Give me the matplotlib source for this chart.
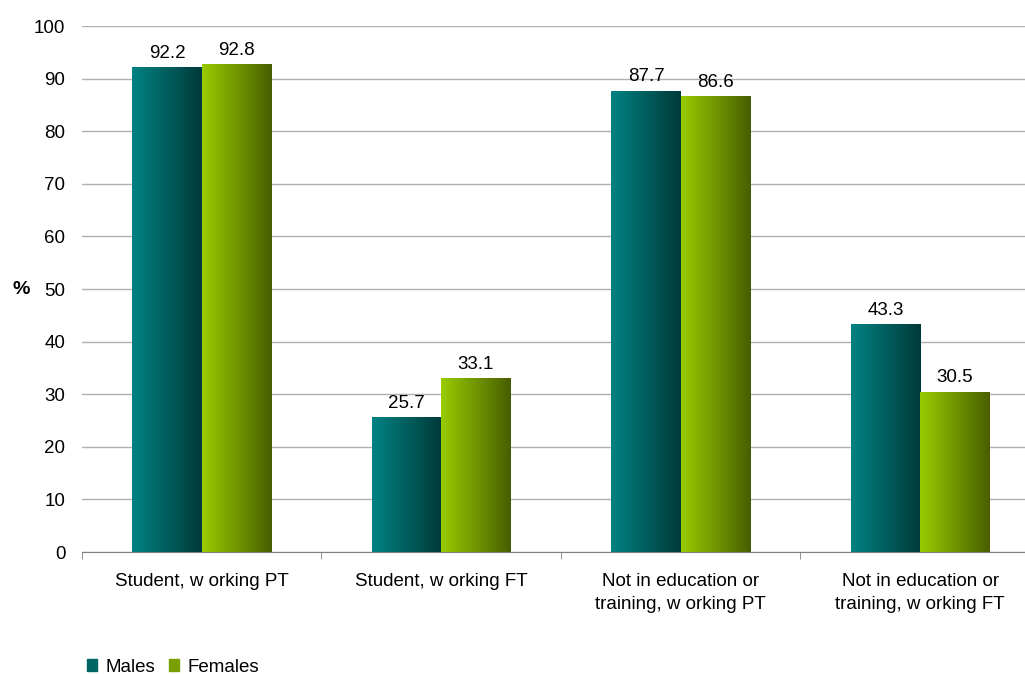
import numpy as np
import matplotlib.pyplot as plt
from matplotlib.colors import LinearSegmentedColormap
from matplotlib.patches import Rectangle

plt.rcParams['font.family'] = ['Liberation Sans', 'DejaVu Sans']

# data
categories = ['Student, w orking PT', 'Student, w orking FT',
              'Not in education or\ntraining, w orking PT',
              'Not in education or\ntraining, w orking FT']
males = [92.2, 25.7, 87.7, 43.3]
females = [92.8, 33.1, 86.6, 30.5]
series_names = ['Males', 'Females']

teal = LinearSegmentedColormap.from_list('teal', ['#008282', '#003a3a'])
green = LinearSegmentedColormap.from_list('green', ['#99cc00', '#485e00'])

fs = 13.5
fig = plt.figure(figsize=(10.25, 6.74), dpi=100)
ax = fig.add_axes([0.080, 0.181, 0.9346, 0.7804])

x = np.arange(len(categories))
w = 0.29
grad = np.linspace(0, 1, 256).reshape(1, -1)

for vals, cmap, off in [(males, teal, -w / 2), (females, green, w / 2)]:
    bars = ax.bar(x + off, vals, w, color=cmap(0.5), zorder=2)
    for b in bars:
        im = ax.imshow(grad, cmap=cmap, aspect='auto', zorder=3,
                       extent=[b.get_x(), b.get_x() + b.get_width(), 0, b.get_height()])
        im.set_clip_path(b)
        ax.text(b.get_x() + b.get_width() / 2, b.get_height() + 1.0,
                f'{b.get_height():.1f}', ha='center', va='bottom', fontsize=fs, zorder=4)

ax.set_xlim(-0.5, len(categories) - 0.5)
ax.set_ylim(0, 100)
ax.set_yticks(np.arange(0, 101, 10))
ax.yaxis.grid(True, color='#b0b0b0', linewidth=1, zorder=0)
ax.set_axisbelow(True)
ax.tick_params(axis='y', length=0, labelsize=fs, pad=12)

ax.set_xticks(x)
ax.set_xticklabels(categories, fontsize=fs, linespacing=1.5)
ax.set_xticks(np.arange(-0.5, len(categories)), minor=True)
ax.tick_params(axis='x', which='major', length=0, pad=15)
ax.tick_params(axis='x', which='minor', length=5, direction='out', color='#808080')

for s in ['top', 'right', 'left']:
    ax.spines[s].set_visible(False)
ax.spines['bottom'].set_color('#808080')

fig.text(0.021, 0.57, '%', fontsize=14, fontweight='bold', ha='center', va='center')

handles = [Rectangle((0, 0), 1, 1, color=teal(0.4)), Rectangle((0, 0), 1, 1, color=green(0.4))]
fig.legend(handles, series_names, loc='center left', bbox_to_anchor=(0.085, 0.01),
           frameon=False, fontsize=13.5, handlelength=0.55, handleheight=0.55,
           handletextpad=0.45, columnspacing=0.7, ncol=2, borderaxespad=0, borderpad=0)

fig.savefig('out.png', dpi=100)
